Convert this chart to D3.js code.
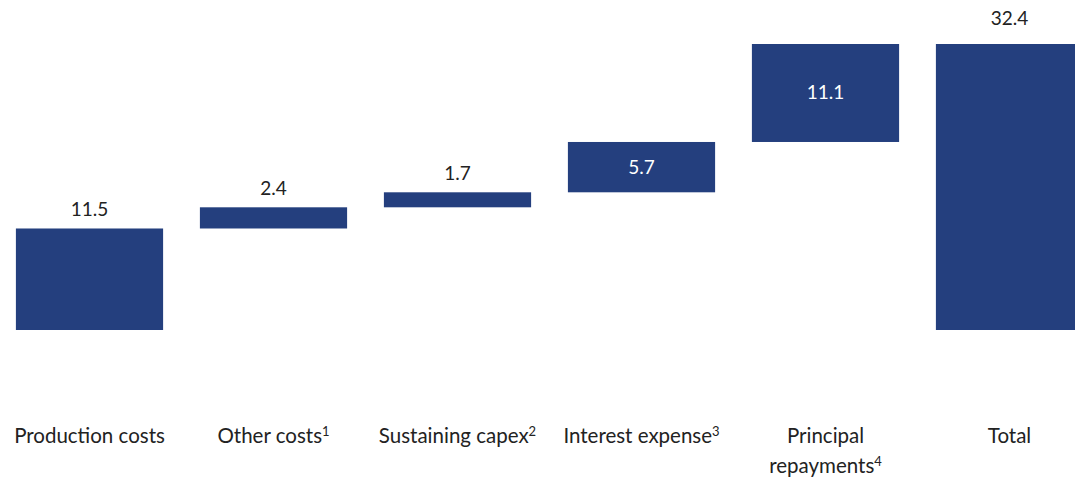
<!DOCTYPE html>
<html>
<head>
<meta charset="utf-8">
<script src="https://cdn.jsdelivr.net/npm/d3@7"></script>
<style>
  body { margin: 0; background: #fff; }
  text { font-family: Lato, "Open Sans", sans-serif; }
</style>
</head>
<body>
<div id="chart"></div>
<script>
// categories, footnote marks and step values
var categories = ["Production costs", "Other costs", "Sustaining capex", "Interest expense", "Principal\nrepayments", "Total"];
var footnotes = ["", "1", "2", "3", "4", ""];
var values = [11.5, 2.4, 1.7, 5.7, 11.1, 32.4];
var isTotal = [false, false, false, false, false, true];

var width = 1075, height = 483;
var barColor = "#243f7e";

// build waterfall steps
var running = 0;
var data = categories.map(function(c, i) {
  var d = { name: c, note: footnotes[i], value: values[i], total: isTotal[i] };
  if (d.total) {
    d.y0 = 0; d.y1 = d.value;
  } else {
    d.y0 = running; d.y1 = running + d.value;
    running = d.y1;
  }
  return d;
});

var x = d3.scaleBand()
  .domain(data.map(function(d) { return d.name; }))
  .range([-2.5, 1101.5])
  .paddingInner(0.2)
  .paddingOuter(0.1);

var y = d3.scaleLinear()
  .domain([0, d3.max(data, function(d) { return d.y1; })])
  .range([330, 44]);

var svg = d3.select("#chart")
  .append("svg")
  .attr("width", width)
  .attr("height", height);

// bars
svg.selectAll(".bar")
  .data(data)
  .enter()
  .append("rect")
  .attr("class", "bar")
  .attr("x", function(d) { return x(d.name); })
  .attr("width", x.bandwidth())
  .attr("y", function(d) { return y(d.y1); })
  .attr("height", function(d) { return y(d.y0) - y(d.y1); })
  .attr("fill", barColor);

// floating bars that are tall enough carry the label inside
function inside(d) {
  return d.y0 > 0 && (y(d.y0) - y(d.y1)) > 40;
}

svg.selectAll(".val")
  .data(data)
  .enter()
  .append("text")
  .attr("class", "val")
  .attr("text-anchor", "middle")
  .attr("font-size", 19)
  .attr("x", function(d) { return x(d.name) + x.bandwidth() / 2; })
  .attr("y", function(d) {
    if (inside(d)) return (y(d.y0) + y(d.y1)) / 2 + 6.5;
    return y(d.y1) - (d.total ? 19 : 12);
  })
  .attr("fill", function(d) { return inside(d) ? "#ffffff" : "#222222"; })
  .text(function(d) { return d3.format(".1f")(d.value); });

// category labels with superscript footnotes
var lab = svg.selectAll(".cat")
  .data(data)
  .enter()
  .append("text")
  .attr("class", "cat")
  .attr("text-anchor", "middle")
  .attr("font-size", 20.5)
  .attr("fill", "#222222")
  .attr("x", function(d) { return x(d.name) + x.bandwidth() / 2; })
  .attr("y", 443);

lab.each(function(d) {
  var t = d3.select(this);
  var lines = d.name.split("\n");
  lines.forEach(function(line, i) {
    t.append("tspan")
      .attr("x", x(d.name) + x.bandwidth() / 2)
      .attr("dy", i === 0 ? 0 : 30)
      .text(line);
    if (i === lines.length - 1 && d.note) {
      t.append("tspan")
        .attr("font-size", 13)
        .attr("dy", -7)
        .text(d.note);
    }
  });
});
</script>
</body>
</html>
